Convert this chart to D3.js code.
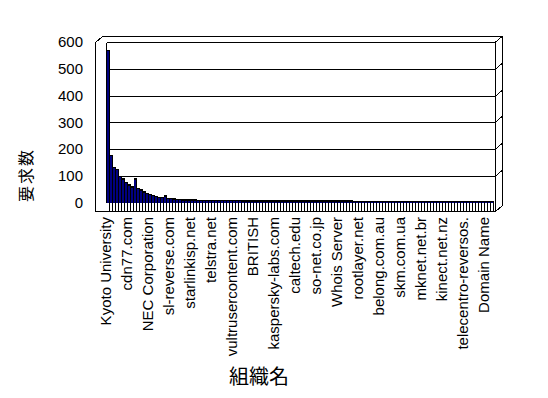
<!DOCTYPE html>
<html>
<head>
<meta charset="utf-8">
<script src="https://cdn.jsdelivr.net/npm/d3@7"></script>
<style>
  html, body { margin: 0; padding: 0; background: #fff; }
  svg { display: block; }
  text { font-family: "Liberation Sans", Arial, sans-serif; fill: #000; }
  .jp { font-family: "Noto Sans CJK JP", sans-serif; }
</style>
</head>
<body>
<div id="chart"></div>
<script>
// request counts per organisation, sorted as in the original sheet
const counts = [
  565, 172, 128, 120, 95, 85, 72, 63, 55, 85,
  50, 44, 36, 31, 27, 24, 20, 16, 15, 21,
  12, 12, 10, 8, 8, 7, 7, 6, 6, 6,
  5, 5, 5, 5, 5, 4, 4, 4, 4, 4,
  4, 4, 4, 4, 4, 3, 3, 3, 3, 3,
  3, 3, 3, 3, 3, 3, 3, 3, 3, 3,
  3, 3, 3, 3, 3, 3, 3, 3, 3, 3,
  3, 3, 3, 3, 3, 3, 3, 3, 2, 2,
  2, 2, 1, 1, 1, 1, 1, 1, 1, 1,
  1, 1, 1, 1, 1, 1, 1, 1, 1, 1,
  1, 1, 1, 1, 1, 1, 1, 1, 1, 1,
  1, 1, 1, 1, 1, 1, 1, 1, 1, 1,
  1, 1, 1, 1, 1, 1, 1, 1, 1
];

// only every 7th category name is printed on the axis
const shownNames = [
  'Kyoto University', 'cdn77.com', 'NEC Corporation', 'sl-reverse.com',
  'starlinkisp.net', 'telstra.net', 'vultrusercontent.com', 'BRITISH',
  'kaspersky-labs.com', 'caltech.edu', 'so-net.co.jp', 'Whois Server',
  'rootlayer.net', 'belong.com.au', 'skm.com.ua', 'mknet.net.br',
  'kinect.net.nz', 'telecentro-reversos.', 'Domain Name'
];
const labelStep = 7;
const yTicks = [0, 100, 200, 300, 400, 500, 600];

const W = 548, H = 398;
const svg = d3.select('#chart').append('svg')
  .attr('width', W).attr('height', H);

const idx = d3.range(counts.length);
const x = d3.scaleBand().domain(idx).range([107, 494]).padding(0);
const y = d3.scaleLinear().domain([0, 600]).range([202.5, 42]);
const base = 203;
const dx = 7, dy = -6; // depth offset of the 3d box

const g = svg.append('g').attr('shape-rendering', 'crispEdges');

// gridlines on the back wall + their little bend onto the side wall
yTicks.filter(t => t > 0).forEach(t => {
  const yy = Math.round(y(t)) + 0.5;
  g.append('path')
    .attr('d', `M107,${yy}H495L${495 + dx},${yy + dy}`)
    .attr('fill', 'none').attr('stroke', '#000');
});

// box outline
const frame = [
  'M95.5,42.5V211.5H495.5',              // front left + bottom
  'M495.5,42.5V211.5',                   // front right
  `M95.5,42.5L${95.5 + dx},${42.5 + dy}H${502.5}V${211.5 + dy}L495.5,211.5`,
  'M106.5,42.5V203'                      // value axis line
];
g.append('path').attr('d', frame.join(''))
  .attr('fill', 'none').attr('stroke', '#000');

// bars: black top/side then navy front face
const bars = g.append('g');
bars.selectAll('rect.side')
  .data(counts)
  .join('rect')
  .attr('class', 'side')
  .attr('x', (d, i) => x(i))
  .attr('y', d => y(d) - 1.5)
  .attr('width', x.bandwidth())
  .attr('height', d => base - y(d) + 1.5)
  .attr('fill', '#000');
bars.selectAll('rect.front')
  .data(counts)
  .join('rect')
  .attr('class', 'front')
  .attr('x', (d, i) => x(i))
  .attr('y', d => y(d))
  .attr('width', x.bandwidth() - 1)
  .attr('height', d => base - y(d))
  .attr('fill', '#000080');

// category ticks on the floor edge
const xAxis = g.append('g')
  .attr('transform', `translate(0,${base})`)
  .call(d3.axisBottom(x).tickValues(idx).tickSize(8).tickFormat(''));
xAxis.select('.domain').remove();
xAxis.selectAll('.tick line').attr('x1', 1).attr('x2', 1).attr('stroke', '#000');

// value labels
svg.append('g').selectAll('text')
  .data(yTicks)
  .join('text')
  .attr('x', 83)
  .attr('y', d => y(d))
  .attr('dy', '0.36em')
  .attr('text-anchor', 'end')
  .attr('font-size', 15)
  .text(d => d);

// category labels, vertical
svg.append('g').selectAll('text')
  .data(shownNames)
  .join('text')
  .attr('transform', (d, k) => `translate(${x(k * labelStep) + x.bandwidth() / 2 + 2.5},217) rotate(-90)`)
  .attr('text-anchor', 'end')
  .attr('font-size', 15)
  .text(d => d);

// axis titles
svg.append('text')
  .attr('class', 'jp')
  .attr('transform', 'translate(32,175) rotate(-90)')
  .attr('text-anchor', 'middle')
  .attr('font-size', 16)
  .attr('letter-spacing', 2)
  .text('要求数');

svg.append('text')
  .attr('class', 'jp')
  .attr('x', 259)
  .attr('y', 384)
  .attr('text-anchor', 'middle')
  .attr('font-size', 20)
  .text('組織名');
</script>
</body>
</html>
